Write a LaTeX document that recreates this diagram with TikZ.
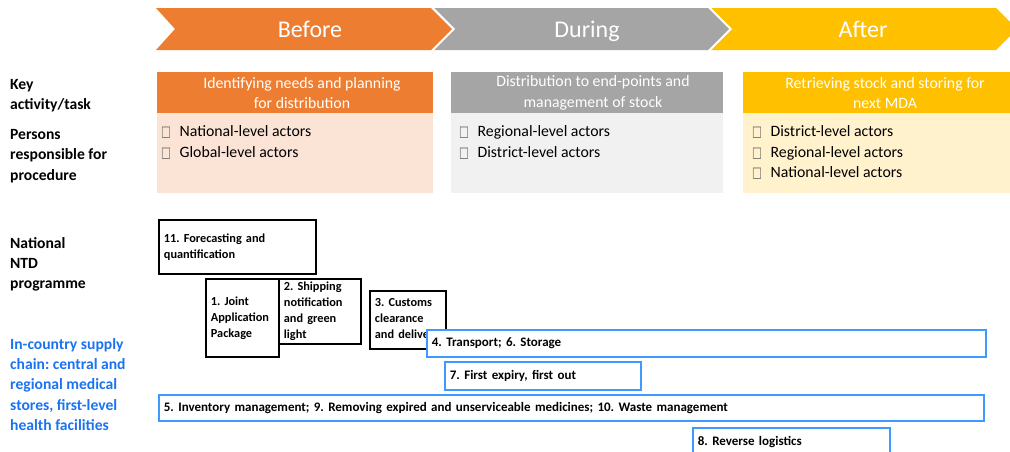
\documentclass[tikz,border=0pt]{standalone}
\usepackage{fontspec}
\usepackage{graphicx}
\setmainfont{Carlito}
\newfontfamily\glyphfont{DejaVu Sans}
\definecolor{cOrange}{HTML}{ED7D31}
\definecolor{cGray}{HTML}{A5A5A5}
\definecolor{cYellow}{HTML}{FFC000}
\definecolor{lOrange}{HTML}{FBE4D5}
\definecolor{lGray}{HTML}{F1F1F1}
\definecolor{lYellow}{HTML}{FFF2CC}
\definecolor{cBlueText}{HTML}{1A73F0}
\definecolor{cBlueLine}{HTML}{3D9BFF}
\definecolor{cBox}{HTML}{6A6A6A}
\newcommand{\chk}{\raisebox{-0.5pt}{\scalebox{0.75}[1.05]{\glyphfont\fontsize{14}{14}\selectfont\textcolor{cBox}{□}}}\hspace{8.5pt}}
\tikzset{
  chev/.style={draw=white, line width=1.5pt},
  chevtext/.style={text=white, anchor=base, font=\fontsize{24}{24}\selectfont, inner sep=0pt},
  headtext/.style={text=white, font=\fontsize{15.8}{20.5}\selectfont, align=center, inner sep=0pt},
  item/.style={anchor=west, inner sep=0pt, font=\fontsize{15.8}{15.8}\selectfont},
  rowlabel/.style={anchor=north west, inner sep=0pt, align=left, font=\bfseries\fontsize{15.6}{20.4}\selectfont},
  blkbox/.style={draw=black, line width=1.8pt, fill=white, anchor=north west, inner xsep=5pt, inner ysep=0pt, align=left, font=\bfseries\fontsize{12.3}{16}\selectfont},
  bluebox/.style={draw=cBlueLine, line width=1.8pt, fill=white, anchor=north west, inner xsep=5pt, inner ysep=0pt, align=left, font=\bfseries\fontsize{13.0}{14}\selectfont}
}
\begin{document}
\frenchspacing
\begin{tikzpicture}[x=1pt,y=-1pt]
\useasboundingbox (0,0) rectangle (1010,451);
% chevrons
\fill[cOrange] (156,8) -- (431,8) -- (452,29) -- (431,50) -- (156,50) -- (175,29) -- cycle;
\fill[cGray] (433,8) -- (708,8) -- (729,29) -- (708,50) -- (433,50) -- (454,29) -- cycle;
\fill[cYellow] (710,8) -- (996,8) -- (1017,29) -- (996,50) -- (710,50) -- (731,29) -- cycle;
\draw[chev] (433,8) -- (454,29) -- (433,50);
\draw[chev] (710,8) -- (731,29) -- (710,50);
\node[chevtext] (before) at (310,37) {Before};
\node[chevtext] (during) at (587,37) {During};
\node[chevtext] (after) at (863,37) {After};
% panels
\fill[cOrange] (157,72) rectangle (433,113);
\fill[lOrange] (157,113) rectangle (433,193);
\fill[cGray] (451,72) rectangle (723,113);
\fill[lGray] (451,113) rectangle (723,193);
\fill[cYellow] (743,72) rectangle (1010,113);
\fill[lYellow] (743,113) rectangle (1010,193);
\node[headtext] (h1) at (302,93) {Identifying needs and planning\\for distribution};
\node[headtext] (h2) at (593,93) {Distribution to end-points and\\management of stock};
\node[headtext] (h3) at (885,93) {Retrieving stock and storing for\\next MDA};
\node[item] (p1a) at (161,132) {\chk National-level actors};
\node[item] (p1b) at (161,153) {\chk Global-level actors};
\node[item] (p2a) at (459,132) {\chk Regional-level actors};
\node[item] (p2b) at (459,153) {\chk District-level actors};
\node[item] (p3a) at (752,132) {\chk District-level actors};
\node[item] (p3b) at (752,153) {\chk Regional-level actors};
\node[item] (p3c) at (752,173) {\chk National-level actors};
% row labels
\node[rowlabel] (l1) at (10,79) {Key\\activity/task};
\node[rowlabel] (l2) at (10,129) {Persons\\responsible for\\procedure};
\node[rowlabel] (l3) at (10,237) {National\\NTD\\programme};
\node[rowlabel, text=cBlueText] (l4) at (10,338) {In-country supply\\chain: central and\\regional medical\\stores, first-level\\health facilities};
% black boxes
\node[blkbox, minimum width=157pt, minimum height=54pt, text width=147pt] (b11) at (158,219) {11. Forecasting and\\quantification};
\node[blkbox, minimum width=73pt, minimum height=78pt, text width=63pt] (b1) at (205,278) {1. Joint\\Application\\Package};
\node[blkbox, minimum width=82pt, minimum height=65pt, text width=72pt] (b2) at (278,278) {2. Shipping\\notification\\and green\\light};
\node[blkbox, minimum width=76pt, minimum height=58pt, text width=66pt] (b3) at (369,290) {3. Customs\\clearance\\and delivery};
% blue boxes
\node[bluebox, minimum width=559pt, minimum height=27pt, text width=549pt] (b4) at (426,329) {4. Transport; 6. Storage};
\node[bluebox, minimum width=196pt, minimum height=28pt, text width=186pt] (b7) at (444,361) {7. First expiry, first out};
\node[bluebox, minimum width=825pt, minimum height=26pt, text width=815pt] (b5) at (158,394) {5. Inventory management; 9. Removing expired and unserviceable medicines; 10. Waste management};
\node[bluebox, minimum width=197pt, minimum height=28pt, text width=187pt] (b8) at (692,427) {8. Reverse logistics};
\end{tikzpicture}
\end{document}
